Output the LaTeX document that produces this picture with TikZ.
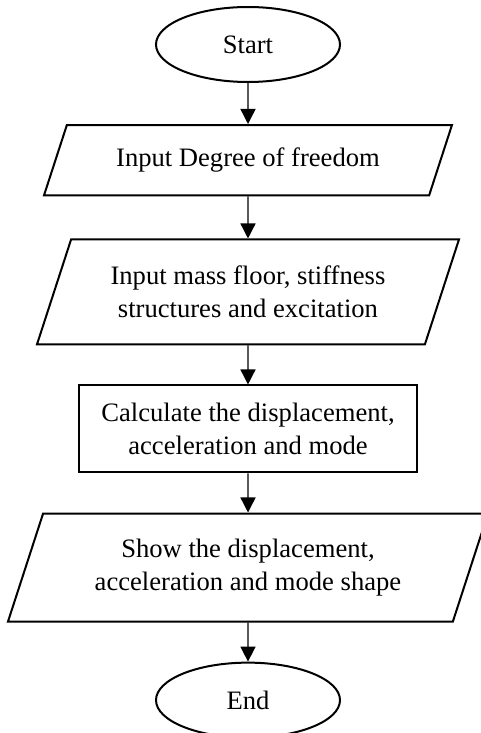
\documentclass[tikz,border=0pt]{standalone}
\usepackage{fontspec}
\setmainfont{Liberation Serif}
\usepackage{tikz}
\usetikzlibrary{shapes.geometric,arrows.meta,positioning}

\begin{document}
\begin{tikzpicture}[
        font=\fontsize{13.3}{16.5}\selectfont,
        terminal/.style={ellipse, draw, line width=1pt,
                     minimum width=92pt, minimum height=37.5pt},
        io/.style={trapezium, trapezium left angle=72, trapezium right angle=108,
                     draw, line width=1pt, align=center, inner ysep=12pt,
                     trapezium stretches body},
        process/.style={rectangle, draw, line width=1pt, align=center,
                     minimum width=169pt, minimum height=43.5pt},
        line/.style={draw, line width=0.7pt, -{Triangle[length=7.5pt,width=7.5pt]}}
      ]
        \useasboundingbox (0,0) rectangle (240.5pt,-366.5pt);

        % Start
        \node [terminal] (start) at (124pt,-22.25pt) {Start};

        % Inputs
        \node [io, below=20.5pt of start, minimum width=204pt, inner ysep=11.5pt] (dof) {Input Degree of freedom};
        \node [io, below=21pt of dof, minimum width=211pt, inner ysep=13.25pt] (mass) {Input mass floor, stiffness\\structures and excitation};

        % Calculation
        \node [process, below=19.5pt of mass] (calc) {Calculate the displacement,\\acceleration and mode};

        % Output
        \node [io, below=19.5pt of calc, minimum width=240pt, inner ysep=12.75pt] (show) {Show the displacement,\\acceleration and mode shape};

        % End
        \node [terminal, below=19.5pt of show] (stop) {End};

        % Lines
        \draw [line] (start) -- (dof);
        \draw [line] (dof) -- (mass);
        \draw [line] (mass) -- (calc);
        \draw [line] (calc) -- (show);
        \draw [line] (show) -- (stop);
      \end{tikzpicture}
\end{document}
